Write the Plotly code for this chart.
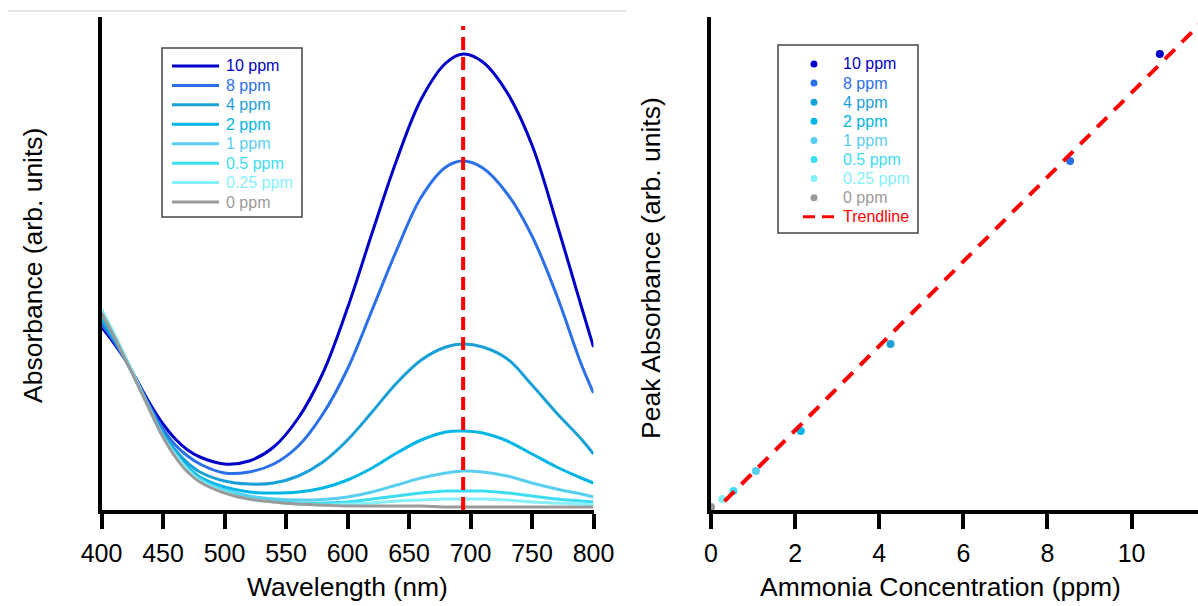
import numpy as np
import plotly.graph_objects as go

# ---------------- data ----------------
wavelength_nm = [400, 410, 420, 430, 440, 450, 460, 470, 480, 500, 520, 540, 560,
                 580, 600, 620, 640, 660, 680, 694, 710, 730, 750, 770, 790, 800]

concentration_ppm = [10, 8, 4, 2, 1, 0.5, 0.25, 0]
series_labels = ["10 ppm", "8 ppm", "4 ppm", "2 ppm", "1 ppm", "0.5 ppm", "0.25 ppm", "0 ppm"]

abs_10ppm = [0.366, 0.334, 0.298, 0.254, 0.210, 0.172, 0.142, 0.120, 0.106, 0.092, 0.098, 0.126, 0.184,
             0.274, 0.404, 0.554, 0.700, 0.822, 0.894, 0.912, 0.896, 0.834, 0.730, 0.574, 0.408, 0.326]
abs_8ppm = [0.372, 0.338, 0.298, 0.252, 0.204, 0.162, 0.130, 0.108, 0.092, 0.074, 0.076, 0.092, 0.128,
            0.192, 0.282, 0.400, 0.520, 0.626, 0.686, 0.698, 0.684, 0.632, 0.548, 0.430, 0.292, 0.234]
abs_4ppm = [0.380, 0.342, 0.298, 0.250, 0.200, 0.154, 0.120, 0.094, 0.076, 0.058, 0.052, 0.054, 0.068,
            0.096, 0.140, 0.196, 0.254, 0.300, 0.326, 0.332, 0.326, 0.302, 0.250, 0.194, 0.142, 0.112]
abs_2ppm = [0.386, 0.346, 0.300, 0.250, 0.198, 0.150, 0.114, 0.086, 0.066, 0.046, 0.036, 0.034, 0.036,
            0.044, 0.060, 0.084, 0.114, 0.140, 0.156, 0.158, 0.154, 0.138, 0.112, 0.086, 0.064, 0.054]
abs_1ppm = [0.392, 0.350, 0.302, 0.250, 0.198, 0.148, 0.112, 0.082, 0.062, 0.040, 0.028, 0.022, 0.020,
            0.021, 0.026, 0.036, 0.050, 0.064, 0.074, 0.078, 0.076, 0.068, 0.054, 0.042, 0.032, 0.026]
abs_05ppm = [0.398, 0.352, 0.302, 0.250, 0.196, 0.146, 0.110, 0.080, 0.060, 0.038, 0.024, 0.018, 0.014,
             0.014, 0.016, 0.022, 0.028, 0.034, 0.038, 0.038, 0.038, 0.034, 0.028, 0.022, 0.018, 0.016]
abs_025ppm = [0.402, 0.354, 0.302, 0.250, 0.196, 0.146, 0.110, 0.080, 0.058, 0.036, 0.022, 0.016, 0.012,
              0.010, 0.012, 0.014, 0.018, 0.020, 0.022, 0.022, 0.022, 0.020, 0.016, 0.014, 0.012, 0.010]
abs_0ppm = [0.394, 0.348, 0.298, 0.248, 0.196, 0.146, 0.106, 0.076, 0.056, 0.034, 0.022, 0.016, 0.012,
            0.010, 0.008, 0.008, 0.008, 0.008, 0.006, 0.006, 0.006, 0.006, 0.006, 0.006, 0.006, 0.006]

peak_wavelength_nm = 694
wavelength_ticks = [400, 450, 500, 550, 600, 650, 700, 750, 800]
concentration_ticks = [0, 2, 4, 6, 8, 10]

# ---------------- styling ----------------
W, H = 1198, 606
FONT = "Arial, Liberation Sans, sans-serif"
colors = ["#0000C8", "#2B70E8", "#1AA0D8", "#00B6E6", "#5ACEF0", "#3CDCF2", "#86F0FA", "#9A9A9A"]
RED = "#FF0000"
TICK_SIZE = 25
TITLE_SIZE = 26.5


def px(x):
    return x / W


def py(y):
    return 1 - y / H


spectra = [abs_10ppm, abs_8ppm, abs_4ppm, abs_2ppm, abs_1ppm, abs_05ppm, abs_025ppm, abs_0ppm]
peak_idx = wavelength_nm.index(peak_wavelength_nm)
peak_abs = [s[peak_idx] for s in spectra]
slope, intercept = np.polyfit(concentration_ppm, peak_abs, 1)

fig = go.Figure()

# spectra (left panel)
for label, spec, col in zip(series_labels, spectra, colors):
    fig.add_trace(go.Scatter(x=wavelength_nm, y=spec, mode="lines", name=label,
                             line=dict(color=col, width=3, shape="spline", smoothing=1.0),
                             xaxis="x", yaxis="y", showlegend=False))

# peak absorbance vs concentration (right panel)
for label, c, a, col in zip(series_labels, concentration_ppm, peak_abs, colors):
    fig.add_trace(go.Scatter(x=[c], y=[a], mode="markers", name=label,
                             marker=dict(color=col, size=8),
                             xaxis="x2", yaxis="y2", showlegend=False))

trend_x = np.array([0.3, 11.5])
fig.add_trace(go.Scatter(x=trend_x, y=slope * trend_x + intercept, mode="lines", name="Trendline",
                         line=dict(color=RED, width=4, dash="14px,10px"),
                         xaxis="x2", yaxis="y2", showlegend=False))

# empty trace so the concentration tick axis gets drawn
fig.add_trace(go.Scatter(x=[], y=[], xaxis="x3", yaxis="y2", showlegend=False, hoverinfo="skip"))

y_dom = [py(510), py(17)]
axis_common = dict(showline=True, linecolor="black", linewidth=4, showgrid=False, zeroline=False,
                   mirror=False, automargin=False)

fig.update_layout(
    width=W, height=H,
    margin=dict(l=0, r=0, t=0, b=0, autoexpand=False),
    paper_bgcolor="white", plot_bgcolor="white",
    showlegend=False,
    font=dict(family=FONT, color="black"),
    xaxis=dict(domain=[px(101.5), px(593.5)], range=[400, 800], anchor="y",
               tickvals=wavelength_ticks, ticks="outside", ticklen=15, tickwidth=4, tickcolor="black",
               ticklabelstandoff=3, tickfont=dict(size=TICK_SIZE, family=FONT), **axis_common),
    yaxis=dict(domain=y_dom, range=[0, 0.986], anchor="x", showticklabels=False, ticks="",
               **axis_common),
    xaxis2=dict(domain=[px(711), 1.0], range=[0, 10.85], anchor="y2", visible=False, automargin=False),
    xaxis3=dict(overlaying="x2", anchor="y2", range=[0, 11.58],
                tickvals=concentration_ticks, ticks="outside", ticklen=15, tickwidth=4, tickcolor="black",
                ticklabelstandoff=3, tickfont=dict(size=TICK_SIZE, family=FONT), **axis_common),
    yaxis2=dict(domain=y_dom, range=[0, 0.986], anchor="x2", showticklabels=False, ticks="",
                **axis_common),
)

shapes = []
annotations = []

# thin rule across the top of the left panel
shapes.append(dict(type="line", xref="paper", yref="paper", x0=px(8), x1=px(626), y0=py(11), y1=py(11),
                   line=dict(color="#DCDCDC", width=1.5)))

# peak wavelength marker
shapes.append(dict(type="line", xref="x", yref="y", x0=peak_wavelength_nm, x1=peak_wavelength_nm,
                   y0=0, y1=0.968, line=dict(color=RED, width=4, dash="13px,7px"), layer="above"))

# legend for the spectra
shapes.append(dict(type="rect", xref="paper", yref="paper", x0=px(162), x1=px(302), y0=py(217), y1=py(48),
                   line=dict(color="#444444", width=1.5), fillcolor="white", layer="above"))
for i, (label, col) in enumerate(zip(series_labels, colors)):
    yy = 66 + 19.43 * i
    shapes.append(dict(type="line", xref="paper", yref="paper", x0=px(172), x1=px(219),
                       y0=py(yy), y1=py(yy), line=dict(color=col, width=3), layer="above"))
    annotations.append(dict(xref="paper", yref="paper", x=px(224), y=py(yy), xanchor="left",
                            yanchor="middle", text=label, showarrow=False,
                            font=dict(size=16, color=col, family=FONT)))

# legend for the calibration panel
shapes.append(dict(type="rect", xref="paper", yref="paper", x0=px(778), x1=px(918), y0=py(233), y1=py(45),
                   line=dict(color="#444444", width=1.5), fillcolor="white", layer="above"))
for i, (label, col) in enumerate(zip(series_labels, colors)):
    yy = 64 + 19.1 * i
    r = 3.5
    shapes.append(dict(type="circle", xref="paper", yref="paper", x0=px(814 - r), x1=px(814 + r),
                       y0=py(yy + r), y1=py(yy - r), line=dict(color=col, width=0), fillcolor=col,
                       layer="above"))
    annotations.append(dict(xref="paper", yref="paper", x=px(841), y=py(yy), xanchor="left",
                            yanchor="middle", text=label, showarrow=False,
                            font=dict(size=16, color=col, family=FONT)))
yy = 64 + 19.1 * 8
shapes.append(dict(type="line", xref="paper", yref="paper", x0=px(803), x1=px(834), y0=py(yy), y1=py(yy),
                   line=dict(color=RED, width=3, dash="12px,7px"), layer="above"))
annotations.append(dict(xref="paper", yref="paper", x=px(841), y=py(yy), xanchor="left", yanchor="middle",
                        text="Trendline", showarrow=False, font=dict(size=16, color=RED, family=FONT)))

# axis titles
title_font = dict(size=TITLE_SIZE, family=FONT, color="black")
annotations += [
    dict(xref="paper", yref="paper", x=px(347), y=py(587), text="Wavelength (nm)", showarrow=False,
         xanchor="center", yanchor="middle", font=title_font),
    dict(xref="paper", yref="paper", x=px(33), y=py(266), text="Absorbance (arb. units)", showarrow=False,
         textangle=-90, xanchor="center", yanchor="middle", font=title_font),
    dict(xref="paper", yref="paper", x=px(940), y=py(587), text="Ammonia Concentration (ppm)",
         showarrow=False, xanchor="center", yanchor="middle", font=title_font),
    dict(xref="paper", yref="paper", x=px(651), y=py(268), text="Peak Absorbance (arb. units)",
         showarrow=False, textangle=-90, xanchor="center", yanchor="middle", font=title_font),
]

fig.update_layout(shapes=shapes, annotations=annotations)
fig.write_html("out.html")
